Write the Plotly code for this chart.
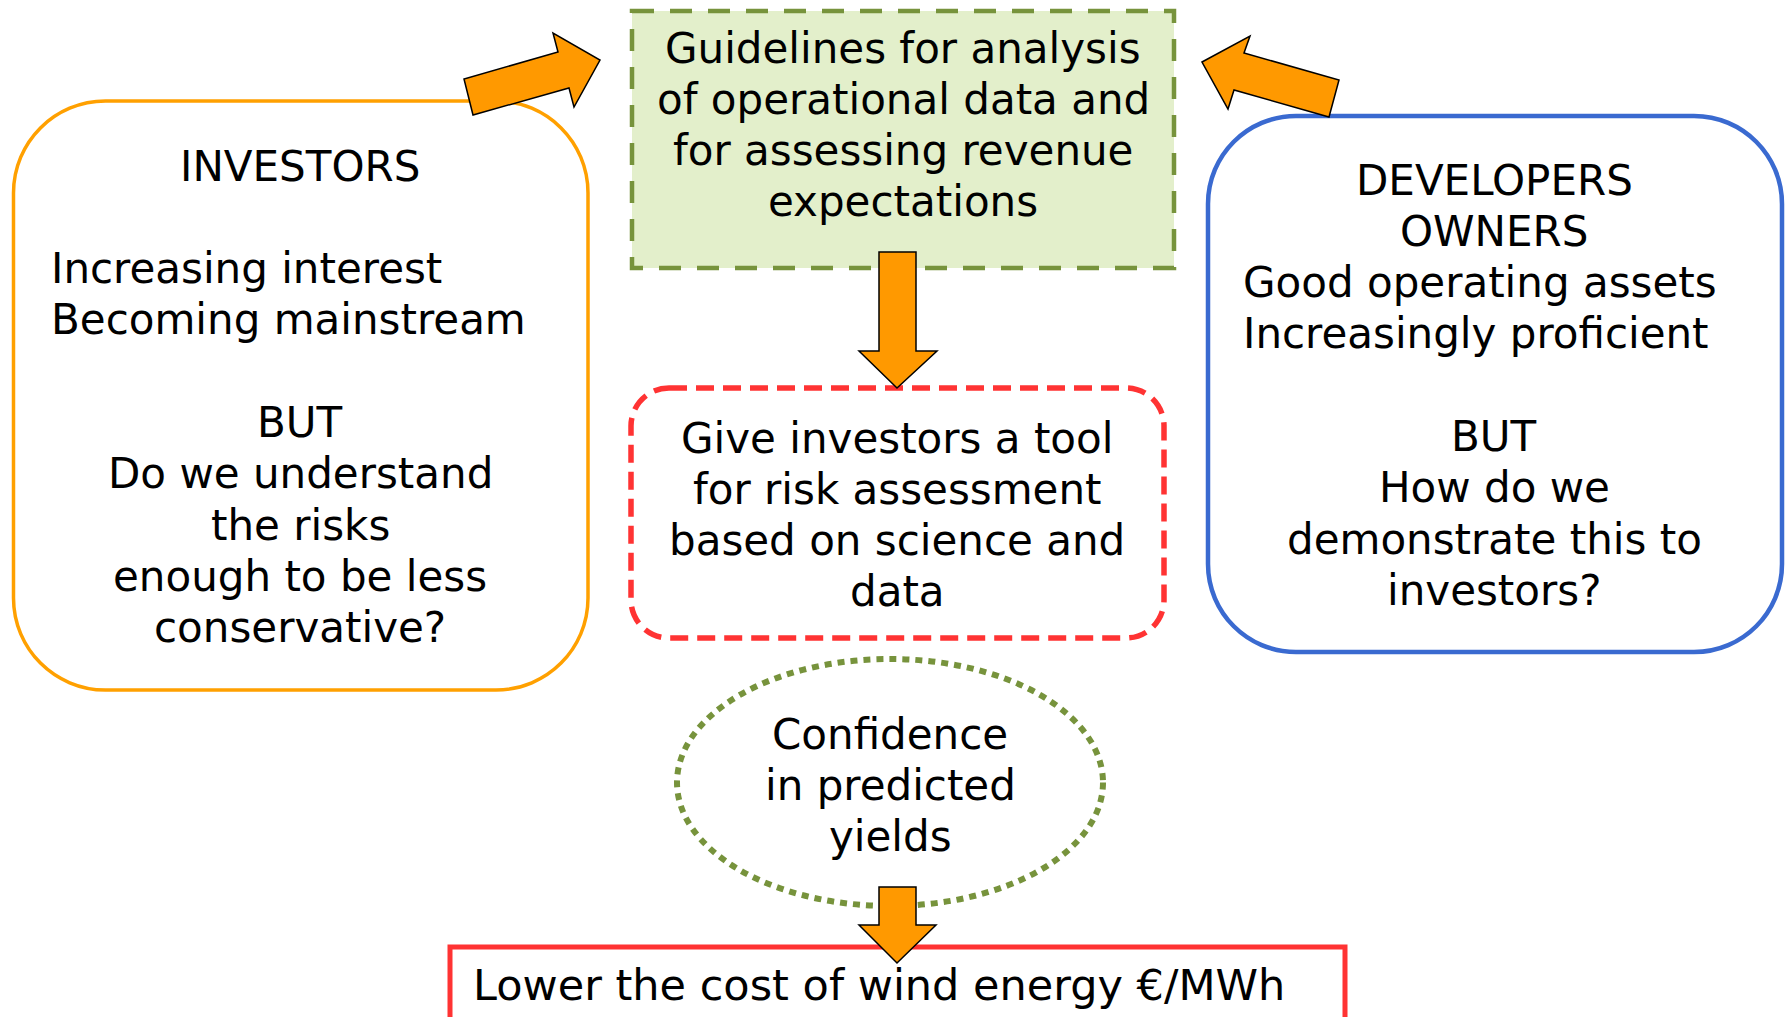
import plotly.graph_objects as go

W, H = 1787, 1017

# ---- text content ----
investors_lines = ["INVESTORS", "", "Increasing interest", "Becoming mainstream", "", "BUT",
                   "Do we understand", "the risks", "enough to be less", "conservative?"]
investors_align = ["center", "", "left", "left", "", "center", "center", "center", "center", "center"]
developers_lines = ["DEVELOPERS", "OWNERS", "Good operating assets", "Increasingly proficient", "",
                    "BUT", "How do we", "demonstrate this to", "investors?"]
developers_align = ["center", "center", "left", "left", "", "center", "center", "center", "center"]
guidelines_lines = ["Guidelines for analysis", "of operational data and",
                    "for assessing revenue", "expectations"]
tool_lines = ["Give investors a tool", "for risk assessment", "based on science and", "data"]
confidence_lines = ["Confidence", "in predicted", "yields"]
goal_text = "Lower the cost of wind energy €/MWh"

# ---- styles ----
FONT = dict(family="DejaVu Sans", size=42, color="black")
LINE_STEP = 51.3
ORANGE = "#FF9900"
BOX_ORANGE = "#FFA000"
BLUE = "#3A6AD0"
RED = "#FF3333"
GREEN = "#77933C"
GREEN_FILL = "#E3EFCB"

K = 0.5523


def rounded_path(x0, y0, x1, y1, r):
    c = r * (1 - K)
    return (f"M {x0 + r},{y0} L {x1 - r},{y0} "
            f"C {x1 - c},{y0} {x1},{y0 + c} {x1},{y0 + r} "
            f"L {x1},{y1 - r} "
            f"C {x1},{y1 - c} {x1 - c},{y1} {x1 - r},{y1} "
            f"L {x0 + r},{y1} "
            f"C {x0 + c},{y1} {x0},{y1 - c} {x0},{y1 - r} "
            f"L {x0},{y0 + r} "
            f"C {x0},{y0 + c} {x0 + c},{y0} {x0 + r},{y0} Z")


def poly_path(pts):
    return "M " + " L ".join(f"{x},{y}" for x, y in pts) + " Z"


shapes = []
# Green dashed guidelines box
shapes.append(dict(type="rect", x0=632, y0=11, x1=1174, y1=268, fillcolor=GREEN_FILL,
                   line=dict(color=GREEN, width=4.5, dash="22px,16px"), layer="above"))
# Investors box
shapes.append(dict(type="path", path=rounded_path(13.5, 101, 588, 690, 92),
                   line=dict(color=BOX_ORANGE, width=3.5), layer="above"))
# Developers box
shapes.append(dict(type="path", path=rounded_path(1208, 116, 1782, 652, 88),
                   line=dict(color=BLUE, width=4.5), layer="above"))
# Red dashed rounded box
shapes.append(dict(type="path", path=rounded_path(631, 388, 1164, 638, 38),
                   line=dict(color=RED, width=5.5, dash="18px,9px"), layer="above"))
# Dotted ellipse
shapes.append(dict(type="circle", x0=677, y0=659, x1=1103, y1=906,
                   line=dict(color=GREEN, width=6, dash="7px,6px"), layer="above"))
# Bottom red rectangle
shapes.append(dict(type="rect", x0=450, y0=947, x1=1345, y1=1040,
                   line=dict(color=RED, width=5), layer="above"))

arrows = [
    [(473, 115), (464, 79), (558, 52), (553, 33), (600, 60), (574, 107), (569, 88)],
    [(1202, 62), (1250, 36), (1244, 53), (1339, 80), (1329, 117), (1234, 90), (1228, 109)],
    [(879, 252), (916, 252), (916, 351), (937, 351), (897, 388), (859, 351), (879, 351)],
    [(879, 887), (916, 887), (916, 925), (936, 925), (897, 963), (859, 925), (879, 925)],
]
for pts in arrows:
    shapes.append(dict(type="path", path=poly_path(pts), fillcolor=ORANGE,
                       line=dict(color="black", width=1.5), layer="above"))

annotations = []


def add_lines(lines, cx, y_first, aligns=None, left_x=None):
    for i, t in enumerate(lines):
        if not t:
            continue
        al = aligns[i] if aligns else "center"
        if al == "left":
            annotations.append(dict(x=left_x, y=y_first + i * LINE_STEP, text=t, showarrow=False,
                                    xanchor="left", yanchor="middle", font=FONT))
        else:
            annotations.append(dict(x=cx, y=y_first + i * LINE_STEP, text=t, showarrow=False,
                                    xanchor="center", yanchor="middle", font=FONT))


add_lines(guidelines_lines, 903, 48)
add_lines(investors_lines, 300, 166, investors_align, left_x=49)
add_lines(developers_lines, 1494, 180, developers_align, left_x=1241)
add_lines(tool_lines, 897, 438)
add_lines(confidence_lines, 890, 734)
annotations.append(dict(x=471, y=985, text=goal_text, showarrow=False, xanchor="left",
                        yanchor="middle", font=dict(FONT, size=43)))

fig = go.Figure()
fig.update_layout(
    width=W, height=H, margin=dict(l=0, r=0, t=0, b=0),
    paper_bgcolor="white", plot_bgcolor="white",
    xaxis=dict(range=[0, W], visible=False, fixedrange=True),
    yaxis=dict(range=[H, 0], visible=False, fixedrange=True),
    shapes=shapes, annotations=annotations, showlegend=False,
)
fig.write_html("out.html", config={"displayModeBar": False},
               post_script="document.body.style.margin='0';document.body.style.overflow='hidden';")
